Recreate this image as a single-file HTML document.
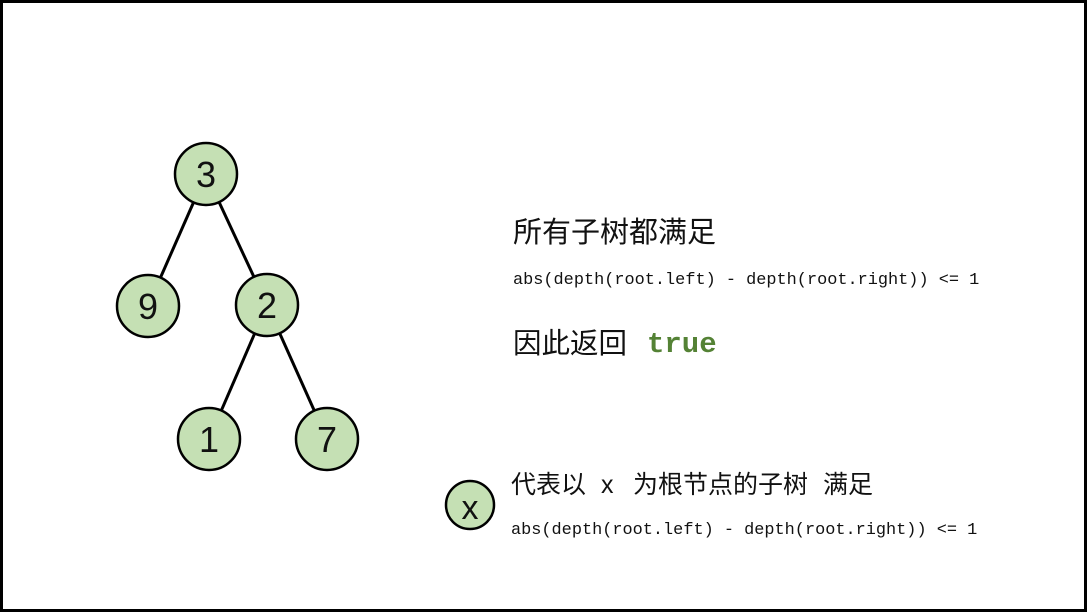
<!DOCTYPE html>
<html><head><meta charset="utf-8"><style>
body{margin:0;background:#fff}
svg{display:block}
.cn{font-family:"Liberation Sans","Noto Sans CJK SC",sans-serif;fill:#111}
.mono{font-family:"Liberation Mono",monospace;fill:#111}
</style></head><body>
<svg width="1087" height="612">
<rect x="1.5" y="1.5" width="1084" height="609" fill="#fff" stroke="#000" stroke-width="3"/>
<g id="edges"></g>
<g id="nodes"></g>
<text x="513" y="242" font-size="29" class="cn">所有子树都满足</text>
<text x="513" y="284" font-size="16.9" class="mono">abs(depth(root.left) - depth(root.right)) &lt;= 1</text>
<text x="513" y="353" font-size="28.5" class="cn">因此返回</text>
<text x="647" y="352" font-size="29" font-weight="bold" font-family="Liberation Mono,monospace" fill="#548235">true</text>
<circle cx="470" cy="505" r="24" fill="#c5e0b4" stroke="#000" stroke-width="2.5"/>
<text x="470" y="519" font-size="34" text-anchor="middle" class="cn">x</text>
<text y="493" font-size="25" class="cn"><tspan x="511">代表以</tspan><tspan x="601">x</tspan><tspan x="633">为根节点的子树</tspan><tspan x="823">满足</tspan></text>
<text x="511" y="534" font-size="16.9" class="mono">abs(depth(root.left) - depth(root.right)) &lt;= 1</text>
</svg>
<script>
const nodeLabels=["3","9","2","1","7"];
const nodeX=[206,148,267,209,327];
const nodeY=[174,306,305,439,439];
const edgeFrom=[0,0,2,2];
const edgeTo=[1,2,3,4];
const R=31, NS="http://www.w3.org/2000/svg";
const eg=document.getElementById('edges'), ng=document.getElementById('nodes');
for(let i=0;i<edgeFrom.length;i++){
  const a=edgeFrom[i],b=edgeTo[i];
  const dx=nodeX[b]-nodeX[a],dy=nodeY[b]-nodeY[a],d=Math.hypot(dx,dy);
  const l=document.createElementNS(NS,'line');
  l.setAttribute('x1',nodeX[a]+dx/d*R);l.setAttribute('y1',nodeY[a]+dy/d*R);
  l.setAttribute('x2',nodeX[b]-dx/d*R);l.setAttribute('y2',nodeY[b]-dy/d*R);
  l.setAttribute('stroke','#000');l.setAttribute('stroke-width','3');
  
  
  eg.appendChild(l);
}
for(let i=0;i<nodeLabels.length;i++){
  const c=document.createElementNS(NS,'circle');
  c.setAttribute('cx',nodeX[i]);c.setAttribute('cy',nodeY[i]);c.setAttribute('r',R);
  c.setAttribute('fill','#c5e0b4');c.setAttribute('stroke','#000');c.setAttribute('stroke-width','2.5');
  
  
  ng.appendChild(c);
  const t=document.createElementNS(NS,'text');
  t.setAttribute('x',nodeX[i]);t.setAttribute('y',nodeY[i]+13);
  t.setAttribute('font-size','36');t.setAttribute('text-anchor','middle');
  t.setAttribute('class','cn');
  
  
  t.textContent=nodeLabels[i];
  ng.appendChild(t);
}
</script>
</body></html>
